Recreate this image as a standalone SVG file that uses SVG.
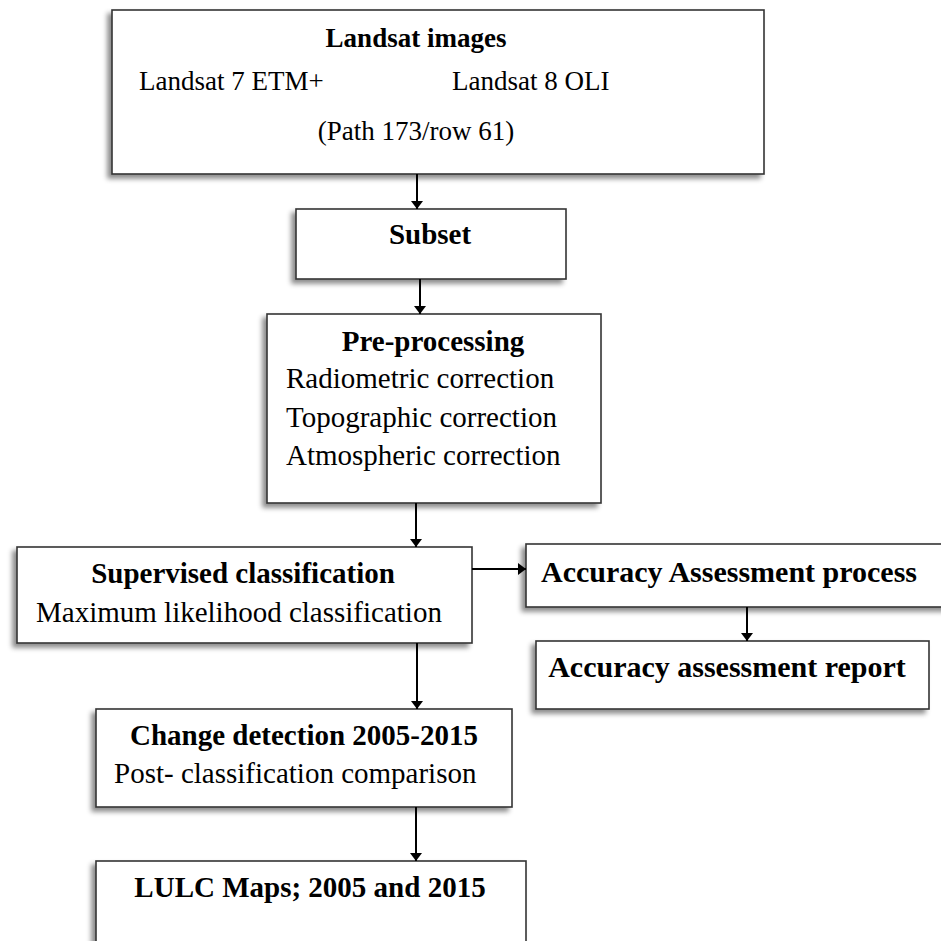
<svg xmlns="http://www.w3.org/2000/svg" width="941" height="941" viewBox="0 0 941 941">
<defs>
<filter id="sh" x="-10%" y="-10%" width="120%" height="130%">
<feDropShadow dx="-4" dy="4" stdDeviation="2.5" flood-color="#000" flood-opacity="0.45"/>
</filter>
<marker id="ah" markerUnits="userSpaceOnUse" viewBox="0 0 8 12" markerWidth="8" markerHeight="12" refX="8" refY="6" orient="auto">
<path d="M0,0 L8,6 L0,12 z" fill="#000"/>
</marker>
<style>
.box{fill:#fff;stroke:#333;stroke-width:1.6;filter:url(#sh)}
text{font-family:"Liberation Serif","Times New Roman",serif;fill:#000}
.b{font-weight:bold}
.c{text-anchor:middle}
.con{stroke:#000;stroke-width:2;fill:none;marker-end:url(#ah)}
</style>
</defs>
<rect width="941" height="941" fill="#fff"/>

<g id="landsat">
<rect class="box" x="112" y="10" width="652" height="164"/>
<text class="b c" x="416" y="47" font-size="27">Landsat images</text>
<text x="139" y="90" font-size="27">Landsat 7 ETM+</text>
<text x="452" y="90" font-size="27">Landsat 8 OLI</text>
<text class="c" x="416" y="140" font-size="27">(Path 173/row 61)</text>
</g>

<g id="subset">
<rect class="box" x="296" y="209" width="270" height="70"/>
<text class="b c" x="430" y="244" font-size="29">Subset</text>
</g>

<g id="preprocessing">
<rect class="box" x="267" y="314" width="334" height="189"/>
<text class="b c" x="433" y="351" font-size="29">Pre-processing</text>
<text x="286" y="388" font-size="29">Radiometric correction</text>
<text x="286" y="427" font-size="29">Topographic correction</text>
<text x="286" y="465" font-size="29">Atmospheric correction</text>
</g>

<g id="supervised">
<rect class="box" x="17" y="547" width="455" height="96"/>
<text class="b c" x="243" y="583" font-size="29">Supervised classification</text>
<text x="36" y="622" font-size="29">Maximum likelihood classification</text>
</g>

<g id="accuracy-process">
<rect class="box" x="526" y="544" width="430" height="63"/>
<text class="b c" x="729" y="582" font-size="30">Accuracy Assessment process</text>
</g>

<g id="accuracy-report">
<rect class="box" x="536" y="641" width="393" height="68"/>
<text class="b c" x="727" y="677" font-size="30">Accuracy assessment report</text>
</g>

<g id="change">
<rect class="box" x="96" y="709" width="416" height="98"/>
<text class="b c" x="304" y="745" font-size="29">Change detection 2005-2015</text>
<text x="114" y="783" font-size="29">Post- classification comparison</text>
</g>

<g id="lulc">
<rect class="box" x="96" y="861" width="430" height="100"/>
<text class="b c" x="310" y="897" font-size="29">LULC Maps; 2005 and 2015</text>
</g>

<g id="connectors">
<line class="con" x1="417" y1="174" x2="417" y2="209"/>
<line class="con" x1="420" y1="279" x2="420" y2="314"/>
<line class="con" x1="416" y1="503" x2="416" y2="547"/>
<line class="con" x1="472" y1="569" x2="526" y2="569"/>
<line class="con" x1="747" y1="607" x2="747" y2="641"/>
<line class="con" x1="417" y1="643" x2="417" y2="709"/>
<line class="con" x1="416" y1="807" x2="416" y2="861"/>
</g>
</svg>
